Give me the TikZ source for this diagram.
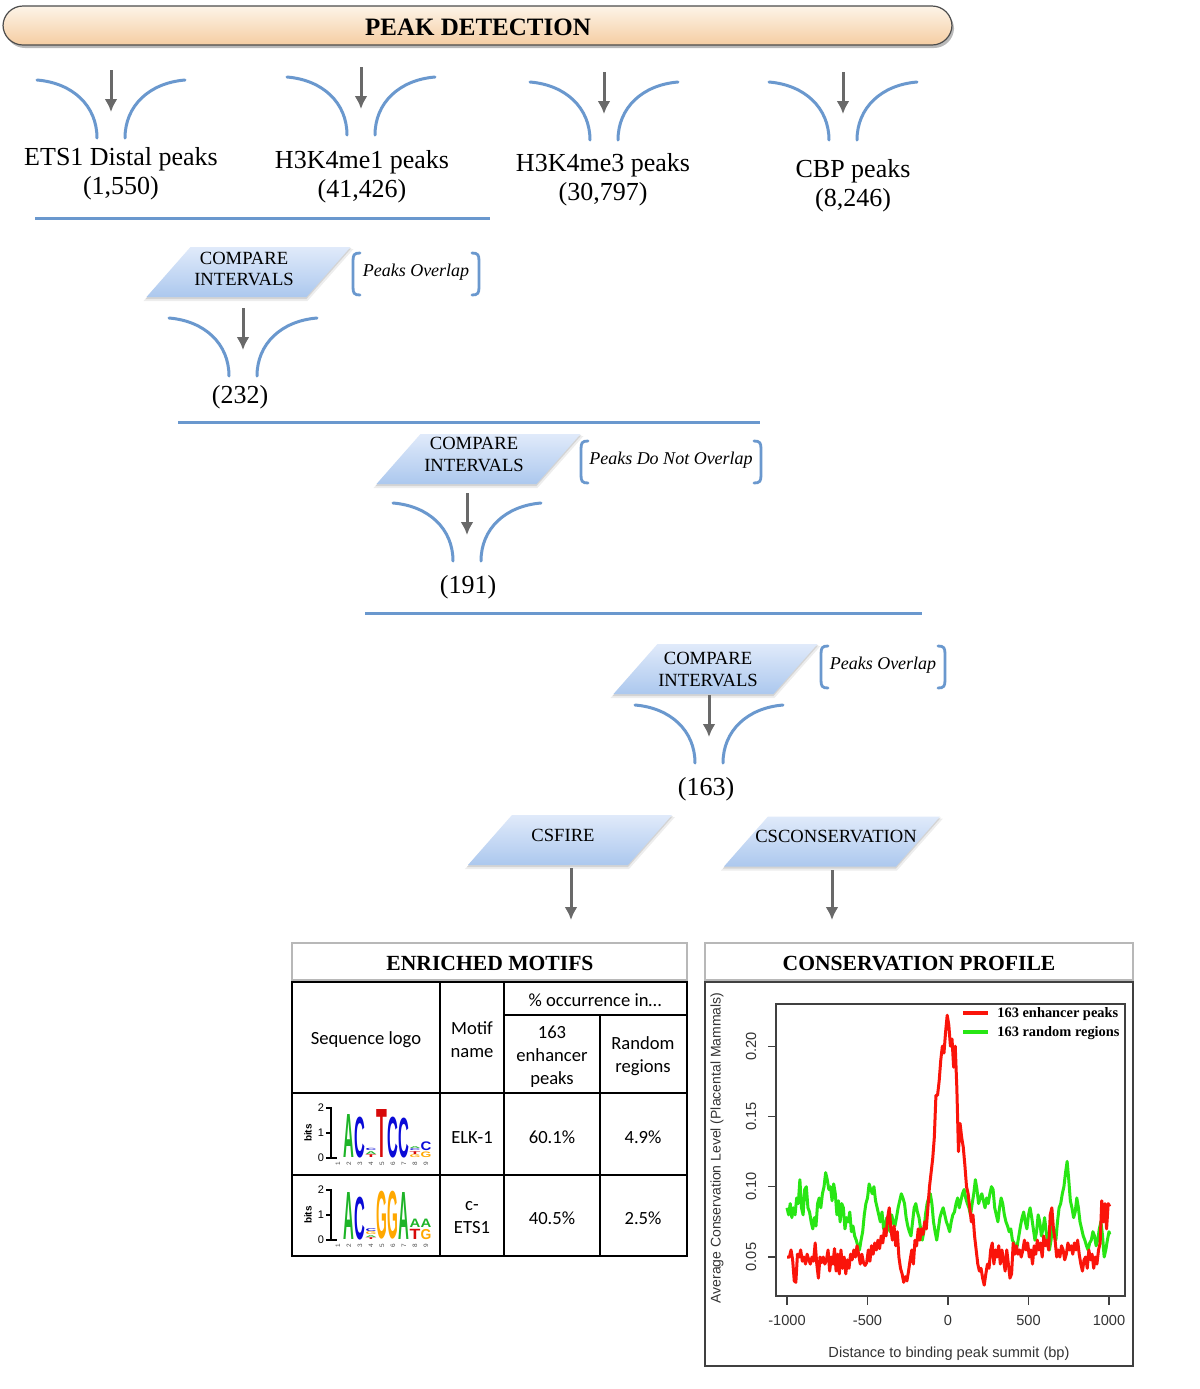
\documentclass[tikz,border=0pt]{standalone}
\usepackage{fontspec}
\setmainfont{Liberation Serif}
\newfontfamily\calib{Carlito}
\newfontfamily\arial{Liberation Sans}
\usetikzlibrary{arrows.meta}
\definecolor{fblue}{RGB}{106,152,206}
\definecolor{agray}{RGB}{105,105,105}
\definecolor{ptop}{RGB}{224,234,250}
\definecolor{pbot}{RGB}{172,200,238}
\definecolor{btop}{RGB}{253,244,232}
\definecolor{bbot}{RGB}{245,205,162}
\definecolor{lgreen}{RGB}{30,180,40}
\definecolor{lblue}{RGB}{10,10,215}
\definecolor{lorange}{RGB}{255,168,0}
\definecolor{lred}{RGB}{215,10,10}
\definecolor{cred}{RGB}{250,20,10}
\definecolor{cgreen}{RGB}{40,230,20}
\tikzset{
  funnelline/.style={draw=fblue, line width=1.5pt, line cap=round},
  sepline/.style={draw=fblue, line width=1.5pt},
  darrow/.style={draw=agray, line width=1.5pt, -{Latex[length=6.5pt,width=6.5pt]}},
  lbl/.style={font=\fontsize{13}{14.5}\selectfont, align=center, inner sep=0pt},
  ptxt/.style={font=\fontsize{9.3}{10.8}\selectfont, align=center, inner sep=0pt},
  brtxt/.style={font=\fontsize{9}{10}\selectfont\itshape, inner sep=0pt},
  brline/.style={draw=fblue, line width=1.4pt, line cap=round},
  tbl/.style={font=\calib\fontsize{9.3}{11.5}\selectfont, align=center, inner sep=0pt},
  hdr/.style={font=\bfseries\fontsize{10.8}{12}\selectfont, inner sep=0pt},
  axt/.style={font=\arial\fontsize{7.3}{8}\selectfont, text=black!80, inner sep=0pt},
  leg/.style={font=\bfseries\fontsize{7.2}{8}\selectfont, inner sep=0pt, anchor=west},
  grid/.style={draw=black, line width=0.9pt},
  lightbox/.style={draw=black!28, line width=1pt},
  curve/.style={line width=1.5pt, line join=round},
}
\newcommand\funnel[3]{%
  \coordinate (#1in) at (#2,#3-10);
  \coordinate (#1out) at (#2,#3+32);
  \draw[funnelline] (#2-74,#3) .. controls (#2-38,#3+3) and (#2-14,#3+26) .. (#2-14,#3+58);
  \draw[funnelline] (#2+74,#3) .. controls (#2+38,#3+3) and (#2+14,#3+26) .. (#2+14,#3+58);
  \draw[darrow] (#1in) -- (#1out);}
\newcommand\para[5]{% name, cx, cy, half width, slant half
  \fill[black, opacity=0.07] (#2-#4-#5-3,#3+29) -- (#2+#4-#5+1,#3+29) -- (#2+#4+#5+3,#3-23) -- (#2-#4+#5-1,#3-23) -- cycle;
  \fill[black, opacity=0.10] (#2-#4-#5-1,#3+27) -- (#2+#4-#5,#3+27) -- (#2+#4+#5+1,#3-24) -- (#2-#4+#5,#3-24) -- cycle;
  \path[top color=ptop, bottom color=pbot] (#2-#4-#5,#3+25) coordinate (#1sw) -- (#2+#4-#5,#3+25) -- (#2+#4+#5,#3-25) -- (#2-#4+#5,#3-25) -- cycle;}
\newcommand\brk[6]{% name, x1, x2, y1, y2, text
  \draw[brline] (#2+7,#4) .. controls (#2+1,#4) and (#2,#4+2) .. (#2,#4+8) -- (#2,#5-8) .. controls (#2,#5-2) and (#2+1,#5) .. (#2+7,#5);
  \draw[brline] (#3-7,#4) .. controls (#3-1,#4) and (#3,#4+2) .. (#3,#4+8) -- (#3,#5-8) .. controls (#3,#5-2) and (#3-1,#5) .. (#3-7,#5);
  \node[brtxt] (#1) at ({(#2+#3)/2},{(#4+#5)/2-2}) {#6};}
\newcommand\lgl[5]{\node[inner sep=0pt, anchor=south, text=#5] at (#1,#2) {\resizebox*{5.4pt}{#3pt}{\arial\bfseries #4}};}
\begin{document}
\begin{tikzpicture}[x=0.5pt,y=-0.5pt]
\useasboundingbox[fill=white] (0,0) rectangle (1200,1389);
% ---------------- banner
\fill[black!50, opacity=0.55, rounded corners=10pt] (5,9) rectangle (954,48);
\path[top color=btop, bottom color=bbot, draw=black!70, line width=0.6pt, rounded corners=10pt] (3,6) rectangle (952,45);
\node[font=\bfseries\fontsize{12.5}{14}\selectfont, inner sep=0pt] (title) at (478,27) {PEAK DETECTION};
% ---------------- first row
\funnel{fa}{111}{80}
\funnel{fb}{361}{77}
\funnel{fc}{604}{82}
\funnel{fd}{843}{82}
\node[lbl] (ets) at (121,173.5) {ETS1 Distal peaks\\(1,550)};
\node[lbl] (me1) at (362,176.5) {H3K4me1 peaks\\(41,426)};
\node[lbl] (me3) at (603,180) {H3K4me3 peaks\\(30,797)};
\node[lbl] (cbp) at (853,185.5) {CBP peaks\\(8,246)};
\coordinate (s1a) at (35,218); \coordinate (s1b) at (490,218);
\draw[sepline] (s1a) -- (s1b);
% ---------------- compare 1
\para{pa}{248.5}{272}{80}{22}
\node[ptxt] (ca) at (244,269) {COMPARE\\INTERVALS};
\brk{ba}{353}{479}{253}{295}{Peaks Overlap}
\funnel{fe}{243}{318}
\node[lbl] (n232) at (240,397) {(232)};
\coordinate (s2a) at (178,422); \coordinate (s2b) at (760,422);
\draw[sepline] (s2a) -- (s2b);
% ---------------- compare 2
\para{pb}{478.5}{459}{80}{22}
\node[ptxt] (cb) at (474,454.5) {COMPARE\\INTERVALS};
\brk{bb}{581}{761}{441}{483}{Peaks Do Not Overlap}
\funnel{ff}{467}{503}
\node[lbl] (n191) at (468,587) {(191)};
\coordinate (s3a) at (365,613); \coordinate (s3b) at (922,613);
\draw[sepline] (s3a) -- (s3b);
% ---------------- compare 3
\para{pc}{715.5}{669}{80}{22}
\node[ptxt] (cc) at (708,669.5) {COMPARE\\INTERVALS};
\brk{bc}{821}{945}{646}{688}{Peaks Overlap}
\funnel{fg}{709}{705}
\node[lbl] (n163) at (706,789) {(163)};
% ---------------- tools
\para{pd}{570}{840}{80}{22}
\node[ptxt] (csfire) at (563,835) {CSFIRE};
\para{pe}{832}{841.5}{86}{22}
\node[ptxt] (cscons) at (836,836) {CSCONSERVATION};
\coordinate (a1s) at (571,868); \coordinate (a1e) at (571,920);
\coordinate (a2s) at (832,870); \coordinate (a2e) at (832,920);
\draw[darrow] (a1s) -- (a1e);
\draw[darrow] (a2s) -- (a2e);
% ---------------- table
\draw[lightbox] (292,943) rectangle (687,980);
\node[hdr] (em) at (490,963) {ENRICHED MOTIFS};
\draw[grid] (292,982) rectangle (687,1256);
\draw[grid] (440,982) -- (440,1256);
\draw[grid] (504,982) -- (504,1256);
\draw[grid] (600,1015) -- (600,1256);
\draw[grid] (504,1015) -- (687,1015);
\draw[grid] (292,1093) -- (687,1093);
\draw[grid] (292,1175) -- (687,1175);
\node[tbl] (occ) at (595,1000) {\% occurrence in…};
\node[tbl] (seq) at (366,1040) {Sequence logo};
\node[tbl] (mn) at (472,1039.5) {Motif\\name};
\node[tbl] (enh) at (552,1057) {163\\enhancer\\peaks};
\node[tbl] (rnd) at (643,1056.5) {Random\\regions};
\node[tbl] (elk) at (472,1137) {ELK-1};
\node[tbl] (p1) at (552,1137) {60.1\%};
\node[tbl] (r1) at (643,1137) {4.9\%};
\node[tbl] (ets1) at (472,1217.5) {c-\\ETS1};
\node[tbl] (p2) at (552,1218) {40.5\%};
\node[tbl] (r2) at (643,1218) {2.5\%};
% logo axes
\foreach \b in {1158,1240}{
  \draw[black, line width=0.7pt] (326,\b-50) -- (331,\b-50) -- (331,\b) -- (337,\b);
  \draw[black, line width=0.7pt] (326,\b-25) -- (331,\b-25);
  \draw[black, line width=0.7pt] (326,\b) -- (331,\b);
  \node[font=\arial\fontsize{5.5}{6}\selectfont, inner sep=0pt] at (321,\b-50) {2};
  \node[font=\arial\fontsize{5.5}{6}\selectfont, inner sep=0pt] at (321,\b-25) {1};
  \node[font=\arial\fontsize{5.5}{6}\selectfont, inner sep=0pt] at (321,\b) {0};
  \node[font=\arial\bfseries\fontsize{5}{6}\selectfont, rotate=90, inner sep=0pt] at (308,\b-25) {bits};
  \foreach \i in {1,...,9}
    \node[font=\arial\fontsize{3.2}{3.5}\selectfont, rotate=90, inner sep=0pt, text=black!70] at (327+11*\i,\b+6) {\i};
}
% logo 1
\lgl{349}{1158}{21.5}{A}{lgreen}
\lgl{360}{1158}{20.5}{C}{lblue}
\lgl{371}{1158}{1.4}{T}{lred}
\lgl{371}{1154.5}{1.4}{A}{lgreen}
\lgl{371}{1151}{1.1}{C}{lblue}
\lgl{382}{1158}{24}{T}{lred}
\lgl{393}{1158}{20.5}{C}{lblue}
\lgl{404}{1158}{20}{C}{lblue}
\lgl{415}{1158}{1.4}{G}{lorange}
\lgl{415}{1154.5}{1.4}{T}{lred}
\lgl{415}{1151}{0.9}{C}{lblue}
\lgl{415}{1148.5}{0.9}{A}{lgreen}
\lgl{426}{1158}{2.8}{G}{lorange}
\lgl{426}{1151.5}{4.4}{C}{lblue}
% logo 2
\lgl{349}{1240}{23.5}{A}{lgreen}
\lgl{360}{1240}{21.5}{C}{lblue}
\lgl{371}{1240}{0.9}{T}{lred}
\lgl{371}{1237.5}{0.9}{A}{lgreen}
\lgl{371}{1235}{1.4}{G}{lorange}
\lgl{371}{1231.5}{1.4}{C}{lblue}
\lgl{382}{1240}{24}{G}{lorange}
\lgl{393}{1240}{24}{G}{lorange}
\lgl{404}{1240}{23.5}{A}{lgreen}
\lgl{415}{1240}{5.1}{T}{lred}
\lgl{415}{1227.5}{4.2}{A}{lgreen}
\lgl{426}{1240}{5.1}{G}{lorange}
\lgl{426}{1227.5}{4.2}{A}{lgreen}
% ---------------- conservation profile
\draw[lightbox] (705,943) rectangle (1133,980);
\node[hdr] (cp) at (919,963) {CONSERVATION PROFILE};
\draw[draw=black!75, line width=0.8pt] (705,982) rectangle (1133,1366);
\draw[draw=black!75, line width=0.6pt] (776,1004) rectangle (1125,1296);
\foreach \t/\l in {-1000/-1000,-500/-500,0/0,500/500,1000/1000}{
  \draw[black!75, line width=0.6pt] (948+0.161*\t,1296) -- (948+0.161*\t,1305);
  \node[axt] at (948+0.161*\t,1320) {\l};
}
\foreach \v/\l in {50/0.05,100/0.10,150/0.15,200/0.20}{
  \draw[black!75, line width=0.6pt] (768,1327.3-1.406*\v) -- (776,1327.3-1.406*\v);
  \node[axt, rotate=90] at (751,1327.3-1.406*\v) {\l};
}
\node[axt] (xl) at (949,1354) {Distance to binding peak summit (bp)};
\node[axt, rotate=90, font=\arial\fontsize{7}{8}\selectfont] (yl) at (717,1148) {Average Conservation Level (Placental Mammals)};
\begin{scope}[shift={(948,1327.3)}, xscale=0.161, yscale=-1.406]
\draw[curve, cgreen] plot coordinates {(-1000,85) (-990,80) (-980,88) (-970,78) (-960,85) (-950,80) (-940,92) (-930,88) (-920,105) (-910,85) (-900,80) (-890,98) (-880,100) (-870,85) (-860,82) (-850,75) (-840,70) (-830,78) (-820,72) (-810,88) (-800,92) (-790,85) (-780,95) (-770,100) (-760,110) (-750,105) (-740,98) (-730,100) (-720,90) (-710,102) (-700,95) (-690,80) (-680,90) (-670,75) (-660,88) (-650,85) (-640,70) (-630,78) (-620,75) (-610,82) (-600,68) (-590,72) (-580,65) (-570,62) (-560,58) (-550,55) (-540,62) (-530,68) (-520,80) (-510,88) (-500,92) (-490,102) (-480,98) (-470,95) (-460,100) (-450,90) (-440,85) (-430,80) (-420,75) (-410,82) (-400,70) (-390,72) (-380,78) (-370,72) (-360,68) (-350,80) (-340,75) (-330,72) (-320,78) (-310,85) (-300,90) (-290,95) (-280,92) (-270,88) (-260,78) (-250,72) (-240,68) (-230,65) (-220,75) (-210,85) (-200,88) (-190,82) (-180,78) (-170,70) (-160,62) (-150,68) (-140,80) (-130,88) (-120,92) (-110,95) (-100,88) (-90,75) (-80,68) (-70,62) (-60,70) (-50,78) (-40,82) (-30,85) (-20,80) (-10,75) (0,72) (10,68) (20,75) (30,80) (40,82) (50,88) (60,92) (70,85) (80,90) (90,95) (100,98) (110,92) (120,88) (130,85) (140,80) (150,88) (160,95) (170,105) (180,98) (190,88) (200,92) (210,95) (220,90) (230,85) (240,92) (250,88) (260,95) (270,100) (280,98) (290,85) (300,80) (310,75) (320,85) (330,92) (340,88) (350,80) (360,75) (370,72) (380,68) (390,70) (400,62) (410,60) (420,55) (430,58) (440,65) (450,72) (460,78) (470,82) (480,75) (490,70) (500,80) (510,85) (520,78) (530,70) (540,62) (550,68) (560,80) (570,75) (580,65) (590,70) (600,78) (610,68) (620,60) (630,55) (640,62) (650,72) (660,68) (670,62) (680,75) (690,85) (700,88) (710,95) (720,100) (730,110) (740,118) (750,105) (760,90) (770,85) (780,78) (790,82) (800,92) (810,85) (820,75) (830,70) (840,65) (850,62) (860,58) (870,55) (880,60) (890,62) (900,68) (910,65) (920,58) (930,62) (940,70) (950,75) (960,65) (970,50) (980,55) (990,62) (1000,68) (1005,66)};
\draw[curve, cred] plot coordinates {(-1000,50) (-985,50) (-975,55) (-965,48) (-955,33) (-945,32) (-935,52) (-925,50) (-915,55) (-905,47) (-895,50) (-885,45) (-875,52) (-865,48) (-855,45) (-845,50) (-835,47) (-825,60) (-815,45) (-805,35) (-795,50) (-785,46) (-775,50) (-765,45) (-755,48) (-745,55) (-735,40) (-725,50) (-715,45) (-705,56) (-695,40) (-685,52) (-675,38) (-665,55) (-655,42) (-645,50) (-635,38) (-625,48) (-615,42) (-605,52) (-595,48) (-585,55) (-575,50) (-565,58) (-555,52) (-545,45) (-535,52) (-525,46) (-515,44) (-505,46) (-495,55) (-485,47) (-475,58) (-465,52) (-455,60) (-445,55) (-435,62) (-425,56) (-415,65) (-405,60) (-395,70) (-385,65) (-375,78) (-365,85) (-355,70) (-345,62) (-335,72) (-325,58) (-315,68) (-305,50) (-295,42) (-285,38) (-275,32) (-265,36) (-255,33) (-245,40) (-235,48) (-225,55) (-215,45) (-205,62) (-195,58) (-185,70) (-175,62) (-165,70) (-155,66) (-145,75) (-135,70) (-125,85) (-115,100) (-105,110) (-95,120) (-85,135) (-75,165) (-65,165) (-55,175) (-45,190) (-35,200) (-25,195) (-15,210) (-5,222) (5,215) (15,200) (25,205) (35,185) (45,200) (55,170) (65,125) (75,145) (85,135) (95,128) (105,115) (115,100) (125,95) (135,85) (145,75) (155,80) (165,65) (175,55) (185,45) (195,40) (205,42) (215,35) (225,30) (235,38) (245,45) (255,42) (265,55) (275,60) (285,45) (295,55) (305,50) (315,58) (325,45) (335,55) (345,48) (355,40) (365,55) (375,45) (385,35) (395,38) (405,60) (415,52) (425,58) (435,52) (445,55) (455,50) (465,55) (475,62) (485,55) (495,60) (505,50) (515,55) (525,45) (535,58) (545,52) (555,62) (565,55) (575,60) (585,50) (595,65) (605,58) (615,62) (625,55) (635,80) (645,85) (655,70) (665,62) (675,50) (685,55) (695,50) (705,58) (715,55) (725,48) (735,52) (745,60) (755,55) (765,58) (775,52) (785,60) (795,55) (805,62) (815,52) (825,45) (835,40) (845,48) (855,50) (865,42) (875,55) (885,48) (895,52) (905,42) (915,50) (925,45) (935,55) (945,60) (955,90) (965,75) (975,88) (985,70) (995,88) (1005,86)};
\end{scope}
\coordinate (lr1) at (963,1013); \coordinate (lr2) at (988,1013);
\coordinate (lg1) at (963,1032); \coordinate (lg2) at (988,1032);
\draw[cred, line width=1.6pt] (lr1) -- (lr2);
\draw[cgreen, line width=1.6pt] (lg1) -- (lg2);
\node[leg] (le1) at (997,1014) {163 enhancer peaks};
\node[leg] (le2) at (997,1033) {163 random regions};
\end{tikzpicture}
\end{document}
